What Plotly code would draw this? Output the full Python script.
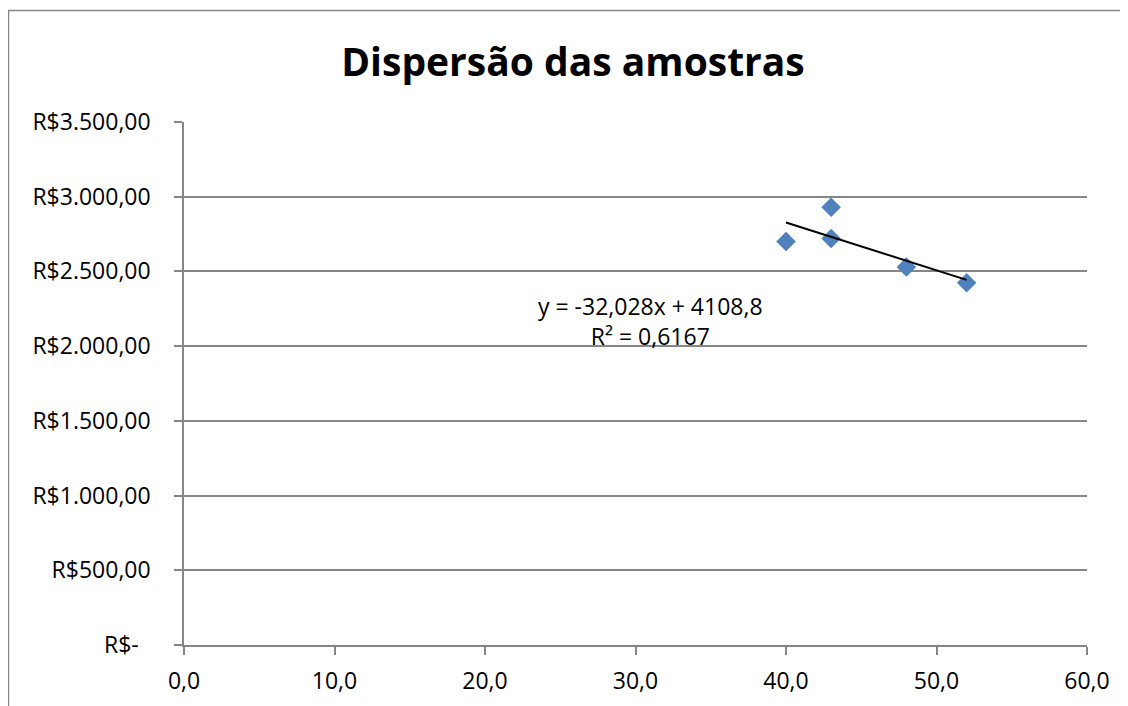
import plotly.graph_objects as go
import numpy as np

# Data
idade = [40, 43, 43, 48, 52]
valor = [2700, 2930, 2720, 2530, 2425]
slope = -32.028
intercept = 4108.8
eq_label = "y = -32,028x + 4108,8<br>R² = 0,6167"
x_ticks = [0, 10, 20, 30, 40, 50, 60]
x_ticktext = ["0,0", "10,0", "20,0", "30,0", "40,0", "50,0", "60,0"]
y_ticks = [0, 500, 1000, 1500, 2000, 2500, 3000, 3500]
y_ticktext = ["R$-\u00a0\u00a0", "R$500,00", "R$1.000,00", "R$1.500,00", "R$2.000,00",
              "R$2.500,00", "R$3.000,00", "R$3.500,00"]

# page body has an 8px offset; target pixel positions are reference minus 8
OFF = 8
W, H = 1128, 706
L, T = 184 - OFF, 122 - OFF
R = W - (1087 - OFF)
B = H - (645 - OFF)
pw, ph = W - L - R, H - T - B
gray = "#868686"
font = "Open Sans, Liberation Sans, sans-serif"

def px(x):
    return (x - OFF - L) / pw

def py(y):
    return 1 - (y - OFF - T) / ph

fig = go.Figure()
fig.add_trace(go.Scatter(x=idade, y=valor, mode="markers",
                         marker=dict(symbol="diamond", size=15, color="#4F81BD"),
                         showlegend=False))
tx = np.array([min(idade), max(idade)])
fig.add_trace(go.Scatter(x=tx, y=slope * tx + intercept, mode="lines",
                         line=dict(color="black", width=2), showlegend=False))

fig.add_annotation(x=px(650), y=py(321), xref="paper", yref="paper",
                   text=eq_label, showarrow=False,
                   font=dict(family=font, size=23, color="black"), align="center")

# outer chart border
fig.add_shape(type="rect", xref="paper", yref="paper",
              x0=px(8.5), x1=1.3, y0=-0.3, y1=py(10.5),
              line=dict(color=gray, width=1.5), layer="below")

fig.update_layout(
    width=W, height=H,
    margin=dict(l=L, r=R, t=T, b=B),
    paper_bgcolor="white", plot_bgcolor="white",
    title=dict(text="<b>Dispersão das amostras</b>", x=(573 - OFF) / W, xanchor="center",
               y=1 - (62 - OFF) / H, yanchor="middle",
               font=dict(family=font, size=39, color="black")),
    xaxis=dict(range=[0, 60], tickvals=x_ticks, ticktext=x_ticktext,
               showgrid=False, zeroline=False, showline=True, linecolor=gray, linewidth=1.5,
               ticks="outside", ticklen=8, tickcolor=gray, tickwidth=1.5,
               ticklabelstandoff=7,
               tickfont=dict(family=font, size=23, color="black")),
    yaxis=dict(range=[0, 3500], tickvals=y_ticks, ticktext=y_ticktext,
               showgrid=True, gridcolor=gray, gridwidth=1.5, zeroline=False,
               showline=True, linecolor=gray, linewidth=1.5,
               ticks="outside", ticklen=8, tickcolor=gray, tickwidth=1.5,
               ticklabelstandoff=19,
               tickfont=dict(family=font, size=23, color="black")),
)

fig.write_html("out.html")
